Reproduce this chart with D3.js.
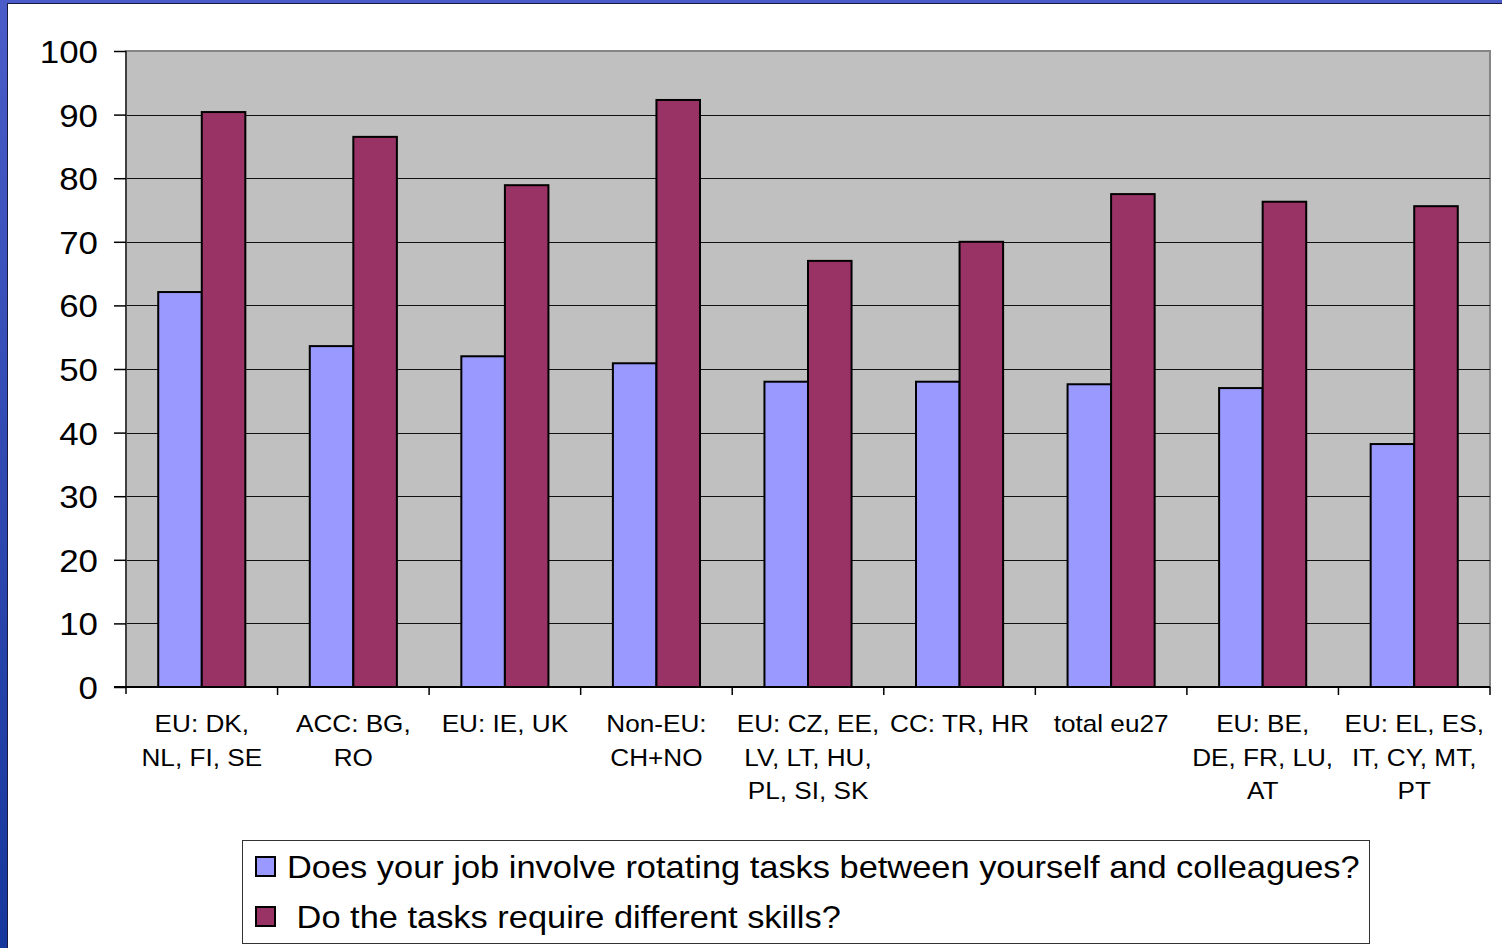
<!DOCTYPE html>
<html>
<head>
<meta charset="utf-8">
<script src="https://cdn.jsdelivr.net/npm/d3@7"></script>
<style>
  html, body { margin: 0; padding: 0; background: #ffffff; }
  svg { display: block; }
  text { font-family: "Liberation Sans", Arial, sans-serif; fill: #000; }
</style>
</head>
<body>
<svg id="chart" width="1502" height="948"></svg>
<script>
// Country groups (line breaks mark wrapped label lines)
const categories = [
  "EU: DK,\nNL, FI, SE",
  "ACC: BG,\nRO",
  "EU: IE, UK",
  "Non-EU:\nCH+NO",
  "EU: CZ, EE,\nLV, LT, HU,\nPL, SI, SK",
  "CC: TR, HR",
  "total eu27",
  "EU: BE,\nDE, FR, LU,\nAT",
  "EU: EL, ES,\nIT, CY, MT,\nPT"
];
const seriesNames = [
  "Does your job involve rotating tasks between yourself and colleagues?",
  " Do the tasks require different skills?"
];
const rotatingTasks = [62.1, 53.6, 52.0, 50.9, 48.0, 48.0, 47.6, 47.0, 38.2];
const differentSkills = [90.4, 86.5, 78.9, 92.3, 67.0, 70.0, 77.5, 76.3, 75.6];
const yTicks = [0, 10, 20, 30, 40, 50, 60, 70, 80, 90, 100];
const seriesColors = ["#9999ff", "#993366"];

const svg = d3.select("#chart");
const W = 1502, H = 948;
const plot = { left: 126, right: 1490, top: 51, bottom: 687 };
const sx = 1.09; // horizontal text stretch

// Slide frame
const defs = svg.append("defs");
const grad = defs.append("linearGradient").attr("id", "frameGrad")
  .attr("x1", 0).attr("y1", 0).attr("x2", 0).attr("y2", 1);
grad.append("stop").attr("offset", "0%").attr("stop-color", "#4a5cc8");
grad.append("stop").attr("offset", "100%").attr("stop-color", "#16379c");
svg.append("rect").attr("width", W).attr("height", H).attr("fill", "#fff");
svg.append("rect").attr("x", 0).attr("y", 0).attr("width", 7).attr("height", H).attr("fill", "url(#frameGrad)");
svg.append("rect").attr("x", 0).attr("y", 0).attr("width", W).attr("height", 3).attr("fill", "#4a5cc8");
svg.append("line").attr("x1", 7.5).attr("x2", 7.5).attr("y1", 3).attr("y2", H).attr("stroke", "#1a1a40").attr("stroke-width", 1);
svg.append("line").attr("x1", 7).attr("x2", W).attr("y1", 3.5).attr("y2", 3.5).attr("stroke", "#1a1a40").attr("stroke-width", 1);

// Scales
const x = d3.scaleBand().domain(categories).range([plot.left, plot.right]).paddingInner(0).paddingOuter(0);
const xSub = d3.scaleBand().domain([0, 1]).range([0, x.bandwidth()]).paddingInner(0).paddingOuter(0.74);
const y = d3.scaleLinear().domain([0, 100]).range([plot.bottom, plot.top]);

// Plot area
svg.append("rect")
  .attr("x", plot.left).attr("y", plot.top)
  .attr("width", plot.right - plot.left).attr("height", plot.bottom - plot.top)
  .attr("fill", "#c0c0c0").attr("stroke", "#858585").attr("stroke-width", 2);

// Gridlines
svg.append("g").selectAll("line")
  .data(yTicks.filter(t => t > 0 && t < 100))
  .join("line")
  .attr("x1", plot.left).attr("x2", plot.right)
  .attr("y1", d => Math.round(y(d)) + 0.5).attr("y2", d => Math.round(y(d)) + 0.5)
  .attr("stroke", "#111").attr("stroke-width", 1);

// Bars
const groups = svg.append("g").selectAll("g")
  .data(categories.map((c, i) => ({ c, vals: [rotatingTasks[i], differentSkills[i]] })))
  .join("g")
  .attr("transform", d => `translate(${x(d.c)},0)`);
groups.selectAll("rect")
  .data(d => d.vals.map((v, k) => ({ v, k })))
  .join("rect")
  .attr("x", d => xSub(d.k))
  .attr("y", d => y(d.v))
  .attr("width", xSub.bandwidth())
  .attr("height", d => y(0) - y(d.v))
  .attr("fill", d => seriesColors[d.k])
  .attr("stroke", "#000").attr("stroke-width", 2);

// Y axis
const yAxis = svg.append("g")
  .attr("transform", `translate(${plot.left},0)`)
  .call(d3.axisLeft(y).tickValues(yTicks).tickSize(12).tickPadding(16).tickFormat(d3.format("d")));
yAxis.select(".domain").attr("stroke", "#404040").attr("stroke-width", 2)
  .attr("d", `M0,${plot.top}V${plot.bottom + 7}`);
yAxis.selectAll(".tick line").attr("stroke", "#000").attr("stroke-width", 1.5);
yAxis.selectAll(".tick text")
  .attr("font-size", 32).attr("font-family", "Liberation Sans, Arial, sans-serif")
  .attr("fill", "#000").attr("dy", "0.36em")
  .attr("transform", function() {
    const xx = +d3.select(this).attr("x");
    return `translate(${xx * (1 - sx)},0) scale(${sx},1)`;
  });

// X axis line and category ticks
svg.append("line")
  .attr("x1", plot.left - 12).attr("x2", plot.right)
  .attr("y1", plot.bottom).attr("y2", plot.bottom)
  .attr("stroke", "#000").attr("stroke-width", 2);
svg.append("g").selectAll("line")
  .data(categories.slice(1).map(c => x(c)).concat([plot.right]))
  .join("line")
  .attr("x1", d => d).attr("x2", d => d)
  .attr("y1", plot.bottom).attr("y2", plot.bottom + 8)
  .attr("stroke", "#000").attr("stroke-width", 1.5);

// Category labels
const catLabels = svg.append("g").selectAll("text")
  .data(categories)
  .join("text")
  .attr("text-anchor", "middle")
  .attr("font-size", 24)
  .attr("transform", d => `translate(${x(d) + x.bandwidth() / 2},732) scale(${sx},1)`);
catLabels.selectAll("tspan")
  .data(d => d.split("\n"))
  .join("tspan")
  .attr("x", 0)
  .attr("y", (d, i) => i * 33.7)
  .text(d => d);

// Legend
const legend = svg.append("g");
legend.append("rect")
  .attr("x", 242.5).attr("y", 840.5).attr("width", 1127).attr("height", 103)
  .attr("fill", "#fff").attr("stroke", "#333").attr("stroke-width", 1);
const legendRows = legend.selectAll("g.row")
  .data(seriesNames)
  .join("g").attr("class", "row")
  .attr("transform", (d, i) => `translate(0,${i * 50})`);
legendRows.append("rect")
  .attr("x", 256).attr("y", 857).attr("width", 19).attr("height", 19)
  .attr("fill", (d, i) => seriesColors[i]).attr("stroke", "#000").attr("stroke-width", 2);
legendRows.append("text")
  .attr("transform", `translate(287,878) scale(1.075,1)`)
  .attr("font-size", 32)
  .attr("xml:space", "preserve")
  .style("white-space", "pre")
  .text(d => d);
</script>
</body>
</html>
